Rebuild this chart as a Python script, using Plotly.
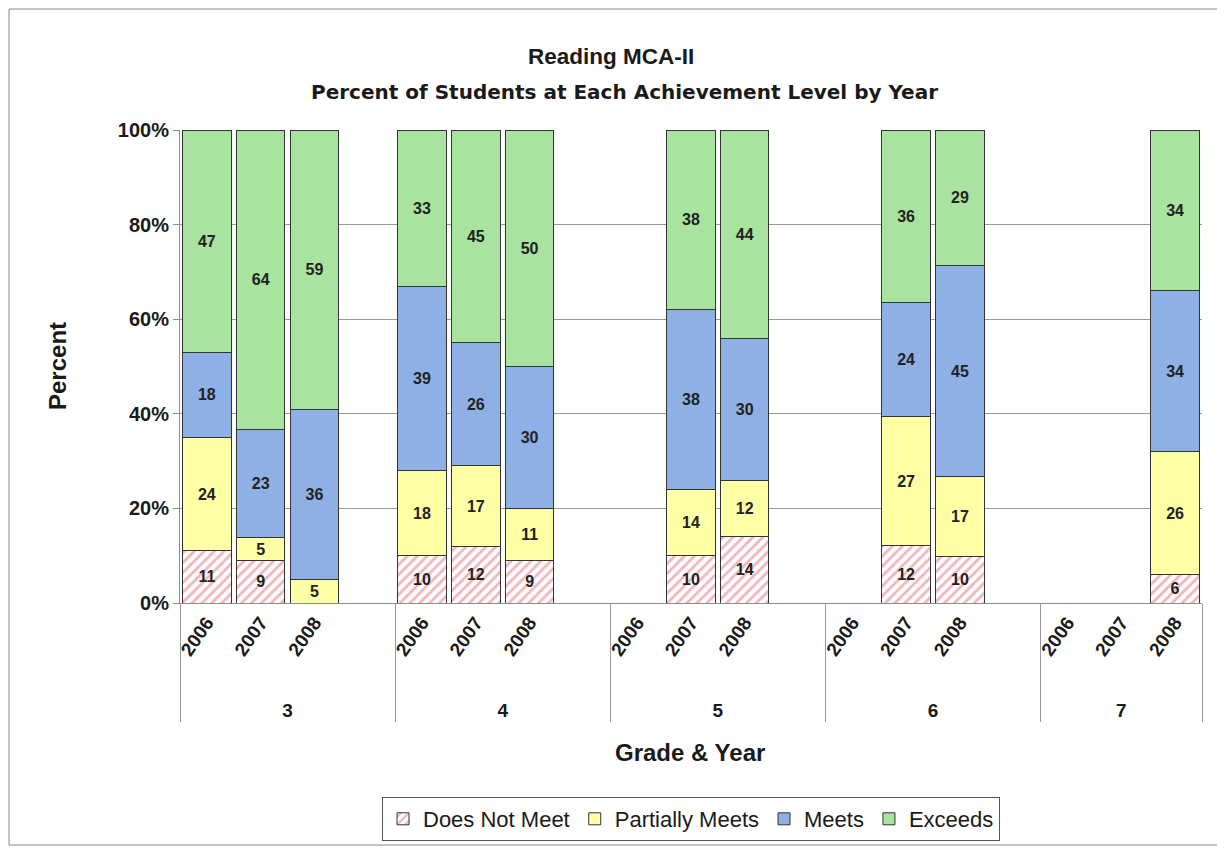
import plotly.graph_objects as go

LEAD = "\u00a0" * 4
grades = ["3", "3", "3", "3", "4", "4", "4", "4", "5", "5", "5", "5", "6", "6", "6", "6", "7", "7", "7"]
years = ["2006", "2007", "2008", " ", "2006", "2007", "2008", "  ", "2006", "2007", "2008", "   ",
         "2006", "2007", "2008", "    ", "2006", "2007", "2008"]

does_not_meet = [11, 9, None, None, 10, 12, 9, None, None, 10, 14, None, None, 12, 10, None, None, None, 6]
partially_meets = [24, 5, 5, None, 18, 17, 11, None, None, 14, 12, None, None, 27, 17, None, None, None, 26]
meets = [18, 23, 36, None, 39, 26, 30, None, None, 38, 30, None, None, 24, 45, None, None, None, 34]
exceeds = [47, 64, 59, None, 33, 45, 50, None, None, 38, 44, None, None, 36, 29, None, None, None, 34]

series = [
    ("Does Not Meet", does_not_meet, "#ffffff", dict(shape="/", fgcolor="#e26a78", bgcolor="#ffffff", size=7, solidity=0.4)),
    ("Partially Meets", partially_meets, "#ffffa6", None),
    ("Meets", meets, "#8fb0e5", None),
    ("Exceeds", exceeds, "#a8e4a0", None),
]

FONT = "Arial, Liberation Sans, sans-serif"
WIDE = "DejaVu Sans, Arial, sans-serif"
# page body adds an 8px offset; screen coords -> paper coords of the plot area
PL, PB, PW, PH = 180, 603, 1022, 473


def px(x):
    return (x - PL) / PW


def py(y):
    return (PB - y) / PH


year_labels = [LEAD + y if y.strip() else y for y in years]

fig = go.Figure()
for name, vals, color, pattern in series:
    marker = dict(color=color, line=dict(color="#333333", width=1))
    if pattern:
        marker["pattern"] = pattern
    fig.add_trace(go.Bar(
        name=name, x=[grades, year_labels], y=vals,
        text=[("" if v is None else str(v)) for v in vals],
        textposition="inside", insidetextanchor="middle",
        textfont=dict(family=FONT, size=16, color="#222222", weight="bold"),
        marker=marker, hoverinfo="y+name",
    ))

fig.update_layout(
    barmode="stack", barnorm="percent", bargap=0.1,
    width=1217, height=840,
    margin=dict(l=172, r=23, t=122, b=245, autoexpand=False),
    paper_bgcolor="white", plot_bgcolor="white",
    font=dict(family=FONT, color="#1a1a1a"),
    uniformtext=dict(minsize=15, mode="show"),
    legend=dict(
        orientation="h", x=0.5, xanchor="center", xref="paper",
        y=1 - 789 / 840, yanchor="top", yref="container",
        font=dict(size=22, family=FONT, color="#1a1a1a"),
        bordercolor="#555555", borderwidth=1, traceorder="normal",
        itemwidth=30,
    ),
    showlegend=True,
)

fig.add_annotation(text="<b>Reading MCA-II</b>", xref="paper", yref="paper",
                   x=px(611), y=py(56), xanchor="center", yanchor="middle", showarrow=False,
                   font=dict(size=22.5, family=FONT, color="#1a1a1a"))
fig.add_annotation(text="<b>Percent of Students at Each Achievement Level by Year</b>",
                   xref="paper", yref="paper", x=px(624), y=py(92),
                   xanchor="center", yanchor="middle", showarrow=False,
                   font=dict(size=20, family=WIDE, color="#1a1a1a"))
fig.add_annotation(text="<b>Grade &amp; Year</b>", xref="paper", yref="paper",
                   x=px(690), y=py(752), xanchor="center", yanchor="middle", showarrow=False,
                   font=dict(size=24, family=FONT, color="#1a1a1a"))
fig.add_annotation(text="<b>Percent</b>", xref="paper", yref="paper",
                   x=px(57), y=py(366), xanchor="center", yanchor="middle",
                   showarrow=False, textangle=-90,
                   font=dict(size=24, family=FONT, color="#1a1a1a"))

fig.update_yaxes(
    range=[0, 100], dtick=20, ticksuffix="%", automargin=False,
    tickfont=dict(size=20, family=FONT, color="#1a1a1a", weight="bold"),
    showgrid=True, gridcolor="#999999", gridwidth=1,
    showline=True, linecolor="#8c8c8c", ticks="outside", ticklen=6, tickcolor="#8c8c8c",
)
fig.update_xaxes(
    type="multicategory", tickangle=-55, automargin=False,
    tickfont=dict(size=19, family=FONT, color="#1a1a1a", weight="bold"),
    showline=True, linecolor="#8c8c8c", dividercolor="#999999", dividerwidth=1,
    showdividers=True,
)

# Outer chart frame
fig.add_shape(type="rect", xref="paper", yref="paper",
              x0=px(9), x1=px(1220), y0=py(845), y1=py(9),
              line=dict(color="#888888", width=1), fillcolor="rgba(0,0,0,0)", layer="below")

fig.write_html("out.html")
